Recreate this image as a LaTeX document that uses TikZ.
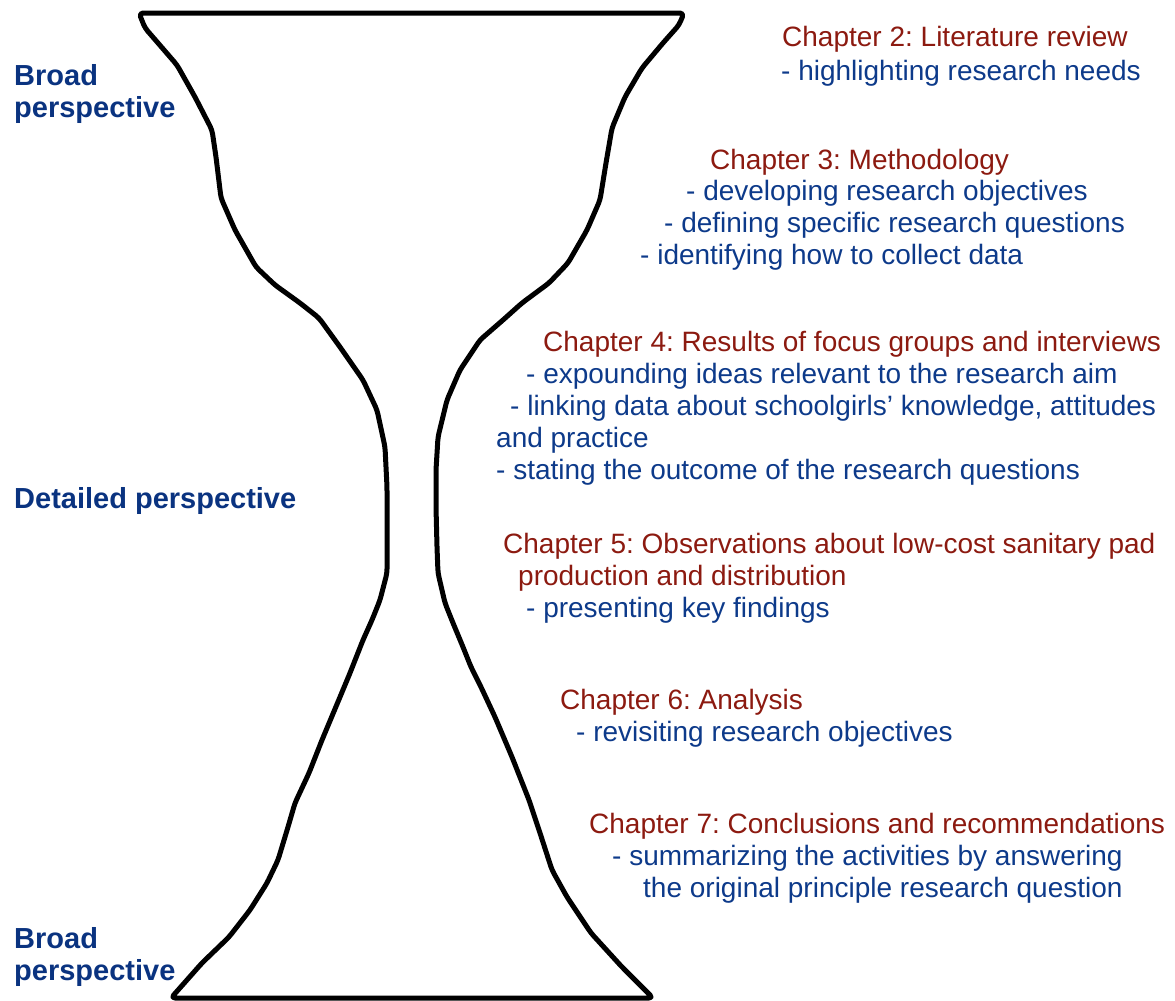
\documentclass[tikz,border=0pt]{standalone}
\usepackage{fontspec}
\setmainfont{Liberation Sans}
\usepackage{xcolor}
\usepackage{tikz}
\usetikzlibrary{positioning}
\frenchspacing
\definecolor{hourRed}{HTML}{8C1A10}
\definecolor{hourBlue}{HTML}{0D3A8A}
\definecolor{hourNavy}{HTML}{0A3380}
\tikzset{
  hour/line/.style    = {anchor=base west, inner sep=0pt, font=\fontsize{28}{32}\selectfont},
  hour/chapter/.style = {hour/line, text=hourRed},
  hour/point/.style   = {hour/line, text=hourBlue},
  hour/side/.style    = {hour/line, text=hourNavy, font=\fontsize{29}{32}\selectfont\bfseries},
  hour/outline/.style = {draw=black, line width=5pt, line join=round, line cap=round,
                         rounded corners=4pt},
}
\begin{document}
\begin{tikzpicture}[x=1pt, y=-1pt]
  \useasboundingbox (0,0) rectangle (1175,1001);
  % hourglass
  \draw[hour/outline] (139,13) -- (684,13)
    -- (679,25) -- (663,43) -- (642,68) -- (625,97) -- (612,128) -- (606,163)
    -- (600,200) -- (587,230) -- (568,263) -- (549,283) -- (522,303) -- (503,320)
    -- (480,340) -- (460,370) -- (447,400) -- (438,437) -- (436,470) -- (436,507)
    -- (437,547) -- (438,573) -- (445,603) -- (453,623) -- (463,647) -- (471,667)
    -- (481,687) -- (495,717) -- (512,757) -- (529,800) -- (540,833) -- (552,870)
    -- (567,897) -- (591,933) -- (622,967) -- (653,998)
    -- (171,998)
    -- (202,963) -- (229,937) -- (250,910) -- (267,883) -- (278,860) -- (288,827)
    -- (295,803) -- (309,773) -- (322,740) -- (340,697) -- (350,673) -- (363,640)
    -- (372,620) -- (380,600) -- (387,573) -- (387,533) -- (387,487) -- (385,447)
    -- (377,410) -- (363,380) -- (340,347) -- (319,318) -- (300,303) -- (275,285)
    -- (256,267) -- (235,230) -- (221,198) -- (216,157) -- (212,130) -- (195,97)
    -- (177,65) -- (158,43) -- (145,28) -- cycle;
  % perspectives
  \node[hour/side] (top1) at (14,85)  {Broad};
  \node[hour/side] (top2) at (14,117) {perspective};
  \node[hour/side] (mid)  at (14,508) {Detailed perspective};
  \node[hour/side] (bot1) at (14,948) {Broad};
  \node[hour/side] (bot2) at (14,980) {perspective};
  % chapters
  \node[hour/chapter] (ch2)  at (782,46)  {Chapter 2: Literature review};
  \node[hour/point]   (ch2a) at (781,80)  {- highlighting research needs};
  \node[hour/chapter] (ch3)  at (710,169) {Chapter 3: Methodology};
  \node[hour/point]   (ch3a) at (686,200) {- developing research objectives};
  \node[hour/point]   (ch3b) at (664,232) {- defining specific research questions};
  \node[hour/point]   (ch3c) at (640,264) {- identifying how to collect data};
  \node[hour/chapter] (ch4)  at (543,351) {Chapter 4: Results of focus groups and interviews};
  \node[hour/point]   (ch4a) at (526,383) {- expounding ideas relevant to the research aim};
  \node[hour/point]   (ch4b) at (510,415) {- linking data about schoolgirls’ knowledge, attitudes};
  \node[hour/point]   (ch4c) at (496,447) {and practice};
  \node[hour/point]   (ch4d) at (496,479) {- stating the outcome of the research questions};
  \node[hour/chapter] (ch5)  at (503,553) {Chapter 5: Observations about low-cost sanitary pad};
  \node[hour/chapter] (ch5b) at (518,585) {production and distribution};
  \node[hour/point]   (ch5a) at (526,617) {- presenting key findings};
  \node[hour/chapter] (ch6)  at (560,709) {Chapter 6: Analysis};
  \node[hour/point]   (ch6a) at (576,741) {- revisiting research objectives};
  \node[hour/chapter] (ch7)  at (589,833) {Chapter 7: Conclusions and recommendations};
  \node[hour/point]   (ch7a) at (612,865) {- summarizing the activities by answering};
  \node[hour/point]   (ch7b) at (643,897) {the original principle research question};
\end{tikzpicture}
\end{document}
